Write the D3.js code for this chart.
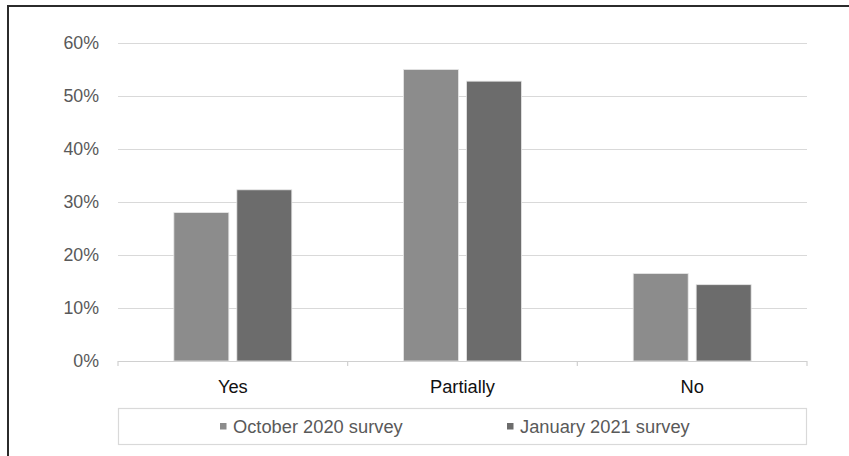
<!DOCTYPE html>
<html>
<head>
<meta charset="utf-8">
<script src="https://cdn.jsdelivr.net/npm/d3@7"></script>
<style>
html,body{margin:0;padding:0;background:#fff;}
svg{display:block;font-family:"Liberation Sans",Arial,sans-serif;}
</style>
</head>
<body>
<svg id="chart" width="849" height="456"></svg>
<script>
const categories = ["Yes", "Partially", "No"];
const seriesNames = ["October 2020 survey", "January 2021 survey"];
const october2020 = [0.28, 0.55, 0.165];
const january2021 = [0.323, 0.528, 0.144];
const yTicks = [0, 0.1, 0.2, 0.3, 0.4, 0.5, 0.6];
const colors = ["#8c8c8c", "#6c6c6c"];

const svg = d3.select("#chart");
const W = 849, H = 456;
const plotLeft = 118, plotRight = 807, plotTop = 43, plotBottom = 361;
const FS = "18.3px";

// outer frame
svg.append("rect").attr("x", 8).attr("y", 6).attr("width", W).attr("height", H)
  .attr("fill", "none").attr("stroke", "#2b2b2b").attr("stroke-width", 2);

const x0 = d3.scaleBand().domain(categories).range([plotLeft, plotRight]).paddingInner(0).paddingOuter(0);
const x1 = d3.scaleBand().domain(seriesNames).range([0, x0.bandwidth()]).paddingInner(0.127).paddingOuter(0.887);
const y = d3.scaleLinear().domain([0, 0.6]).range([plotBottom, plotTop]);

// gridlines
svg.append("g").selectAll("line").data(yTicks.filter(d => d > 0)).join("line")
  .attr("x1", plotLeft).attr("x2", plotRight)
  .attr("y1", d => Math.round(y(d)) + 0.5).attr("y2", d => Math.round(y(d)) + 0.5)
  .attr("stroke", "#d9d9d9").attr("stroke-width", 1.2);

// y axis labels
const yAxis = d3.axisLeft(y).tickValues(yTicks).tickFormat(d3.format(".0%")).tickSize(0).tickPadding(0);
const yg = svg.append("g").attr("transform", `translate(${plotLeft - 19},0)`).call(yAxis);
yg.select(".domain").remove();
yg.selectAll("text").attr("fill", "#595959").style("font-size", "17.8px")
  .style("font-family", "Liberation Sans, Arial, sans-serif");

// bars
const rows = categories.map((c, i) => ({cat: c, vals: [october2020[i], january2021[i]]}));
const g = svg.append("g");
rows.forEach(r => {
  r.vals.forEach((v, j) => {
    g.append("rect")
      .attr("x", x0(r.cat) + x1(seriesNames[j]))
      .attr("width", x1.bandwidth())
      .attr("y", y(v))
      .attr("height", y(0) - y(v))
      .attr("fill", colors[j])
      .attr("stroke", "#e6e6e6").attr("stroke-width", 0.8);
  });
});

// x axis
const xAxis = d3.axisBottom(x0).tickSize(0).tickPadding(0);
const xg = svg.append("g").attr("transform", `translate(0,${plotBottom})`).call(xAxis);
xg.select(".domain").remove();
xg.selectAll("text").attr("fill", "#111").attr("dy", 0).attr("y", 32)
  .style("font-size", FS).style("font-family", "Liberation Sans, Arial, sans-serif");
svg.append("line").attr("x1", plotLeft).attr("x2", plotRight).attr("y1", plotBottom + 0.5).attr("y2", plotBottom + 0.5)
  .attr("stroke", "#d0d0d0").attr("stroke-width", 1.2);
const boundaries = [plotLeft, ...categories.slice(1).map(c => x0(c)), plotRight];
svg.append("g").selectAll("line").data(boundaries).join("line")
  .attr("x1", d => d).attr("x2", d => d).attr("y1", plotBottom).attr("y2", plotBottom + 5)
  .attr("stroke", "#d0d0d0").attr("stroke-width", 1.2);

// legend
svg.append("rect").attr("x", 118.5).attr("y", 408.5).attr("width", 688).attr("height", 36)
  .attr("fill", "#fff").attr("stroke", "#d9d9d9").attr("stroke-width", 1.2);
const legendX = [220, 507];
seriesNames.forEach((s, j) => {
  svg.append("rect").attr("x", legendX[j]).attr("y", 423).attr("width", 6.5).attr("height", 6.5)
    .attr("fill", colors[j]);
  svg.append("text").attr("x", legendX[j] + 13).attr("y", 426.5).attr("dy", "0.35em")
    .attr("fill", "#595959").style("font-size", FS).text(s);
});
</script>
</body>
</html>
